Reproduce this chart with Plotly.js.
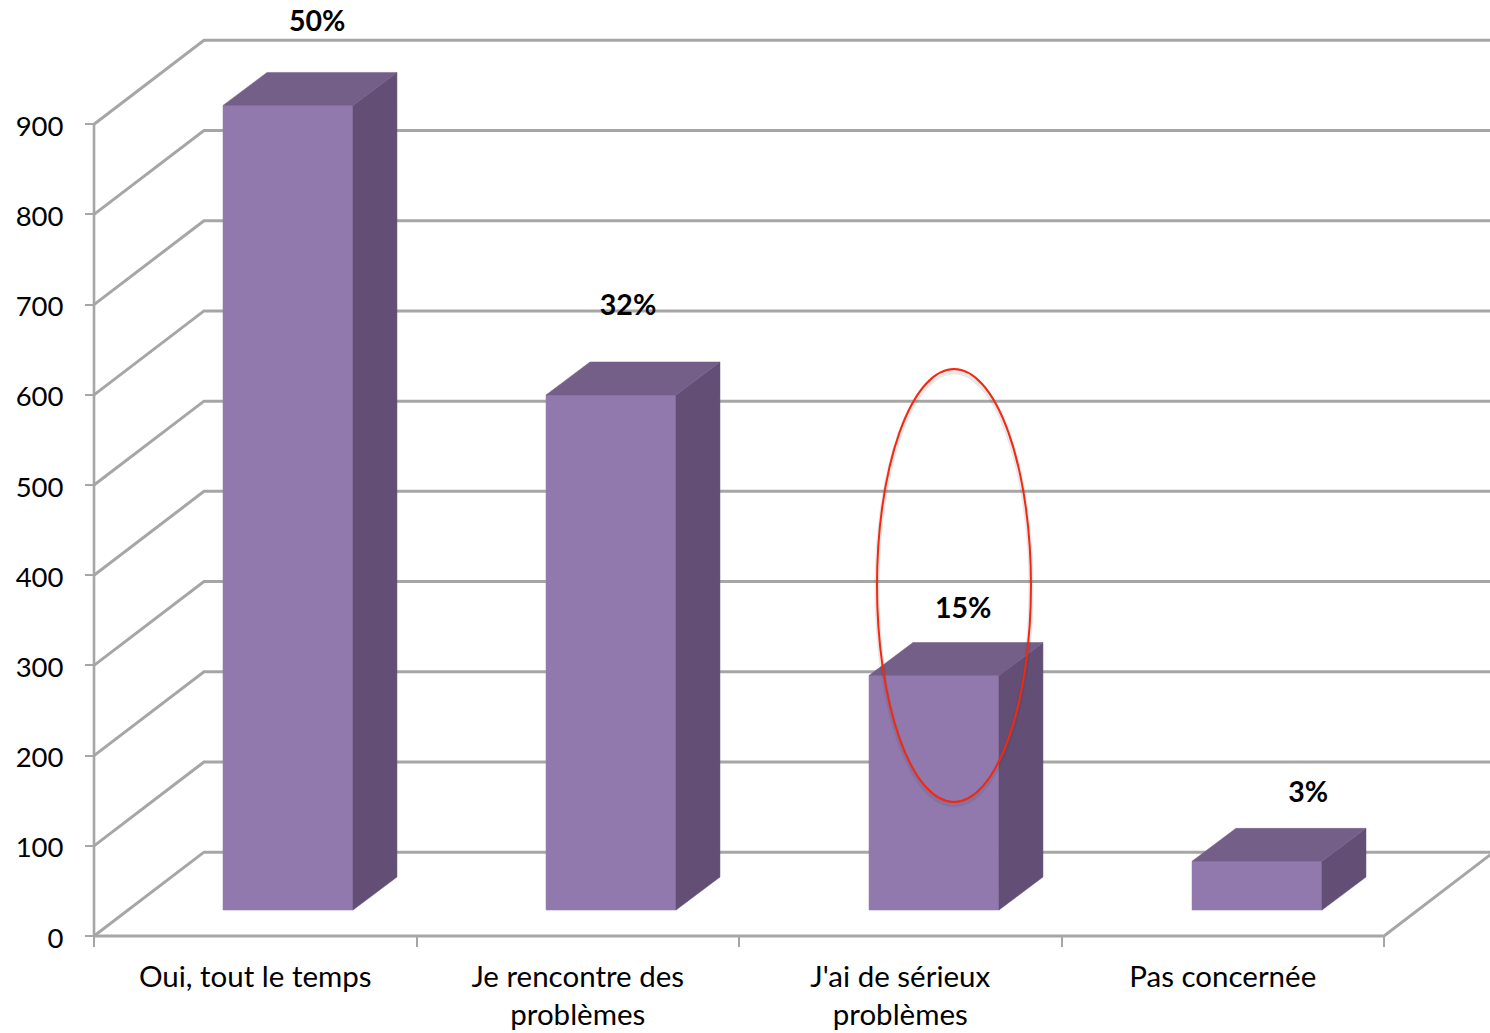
<!DOCTYPE html>
<html>
<head>
<meta charset="utf-8">
<script src="https://cdn.plot.ly/plotly-3.0.1.min.js"></script>
<style>html,body{margin:0;padding:0;background:#fff;overflow:hidden}#chart{width:1490px;height:1033px}</style>
</head>
<body>
<div id="chart"></div>
<script>
// Data
const categories = ["Oui, tout le temps", "Je rencontre des<br>problèmes", "J'ai de sérieux<br>problèmes", "Pas concernée"];
const values = [892, 571, 260, 54];
const percentLabels = ["50%", "32%", "15%", "3%"];
const valueTicks = [0, 100, 200, 300, 400, 500, 600, 700, 800, 900];

// Label anchors (x in category bands, y in value units)
const percentX = [0.692, 1.656, 2.695, 3.765];
const percentY = [1011, 696, 360, 156];

// 3D construction, in axis units
const wallDepthX = 0.341, wallDepthY = 93;
const floorEndX = 4, floorEndDepthX = 0.329, floorEndDepthY = 90;
const barLefts = [0.4, 1.4016, 2.4031, 3.4047];
const barWidth = 0.403, barBase = 28.8;
const barDepthX = 0.1364, barDepthY = 36.6;
const xRange = [-0.2915, 4.3287], yRange = [-107.5, 1037.7];
const xAxisPosition = 0.0939, yAxisPosition = 0.0631;

// Red ellipse, axis units
const ellipseX = [2.4279, 2.9054];
const ellipseY = [148.6, 628.6];

// Styles
const gridColor = "#a6a6a6", frontColor = "#9179ad", topColor = "#735f88", sideColor = "#634e76", textFont = "Lato";

const traces = [];
function line(x, y, width) {
  traces.push({type: "scatter", mode: "lines", x, y, hoverinfo: "skip",
    line: {color: gridColor, width, simplify: false}});
}
function poly(x, y, color) {
  traces.push({type: "scatter", mode: "lines", x, y, fill: "toself", fillcolor: color,
    hoverinfo: "skip", line: {color, width: 0.5}});
}
valueTicks.forEach(v => line([0, wallDepthX, xRange[1]], [v, v + wallDepthY, v + wallDepthY], 3));
line([0, 0], [0, 900], 2.6);
line([0, floorEndX, floorEndX + floorEndDepthX], [0, 0, floorEndDepthY], 3);

values.forEach((v, i) => {
  const l = barLefts[i], r = l + barWidth, b = barBase, t = barBase + v;
  poly([l, r, r, l, l], [b, b, t, t, b], frontColor);
  poly([r, r + barDepthX, r + barDepthX, r, r], [b, b + barDepthY, t + barDepthY, t, b], sideColor);
  poly([l, r, r + barDepthX, l + barDepthX, l], [t, t, t + barDepthY, t + barDepthY, t], topColor);
});

traces.push({type: "scatter", mode: "text", x: percentX, y: percentY, text: percentLabels,
  textposition: "middle center", hoverinfo: "skip",
  textfont: {family: textFont, size: 28.5, color: "#000", weight: 700}});

const layout = {
  width: 1490, height: 1033, showlegend: false,
  margin: {l: 0, r: 0, t: 0, b: 0, pad: 0},
  paper_bgcolor: "#fff", plot_bgcolor: "#fff",
  xaxis: {
    range: xRange, anchor: "free", position: xAxisPosition,
    showgrid: false, zeroline: false, showline: false,
    tickmode: "array", tickvals: categories.map((_, i) => i + 0.5), ticktext: categories,
    ticks: "", tickangle: 0, ticklabelstandoff: 20,
    tickfont: {family: textFont, size: 29.5, color: "#000"},
    minor: {tickmode: "array", tickvals: [0, 1, 2, 3, 4], ticks: "outside", ticklen: 10, tickwidth: 2, tickcolor: gridColor, showgrid: false}
  },
  yaxis: {
    range: yRange, anchor: "free", position: yAxisPosition,
    showgrid: false, zeroline: false, showline: false,
    tickmode: "array", tickvals: valueTicks, ticktext: valueTicks.map(String),
    ticks: "outside", ticklen: 9, tickwidth: 2, tickcolor: gridColor, ticklabelstandoff: 16, ticklabelshift: 2,
    tickfont: {family: textFont, size: 27.5, color: "#000"}
  },
  shapes: [
    {type: "circle", xref: "x", yref: "y", x0: ellipseX[0], x1: ellipseX[1], y0: ellipseY[0] - 3, y1: ellipseY[1] - 3,
      line: {color: "rgba(60,60,60,0.12)", width: 5}, layer: "above"},
    {type: "circle", xref: "x", yref: "y", x0: ellipseX[0], x1: ellipseX[1], y0: ellipseY[0], y1: ellipseY[1],
      line: {color: "#f5280f", width: 2}, layer: "above"}
  ]
};
Plotly.newPlot("chart", traces, layout, {staticPlot: true, displayModeBar: false});
</script>
</body>
</html>
